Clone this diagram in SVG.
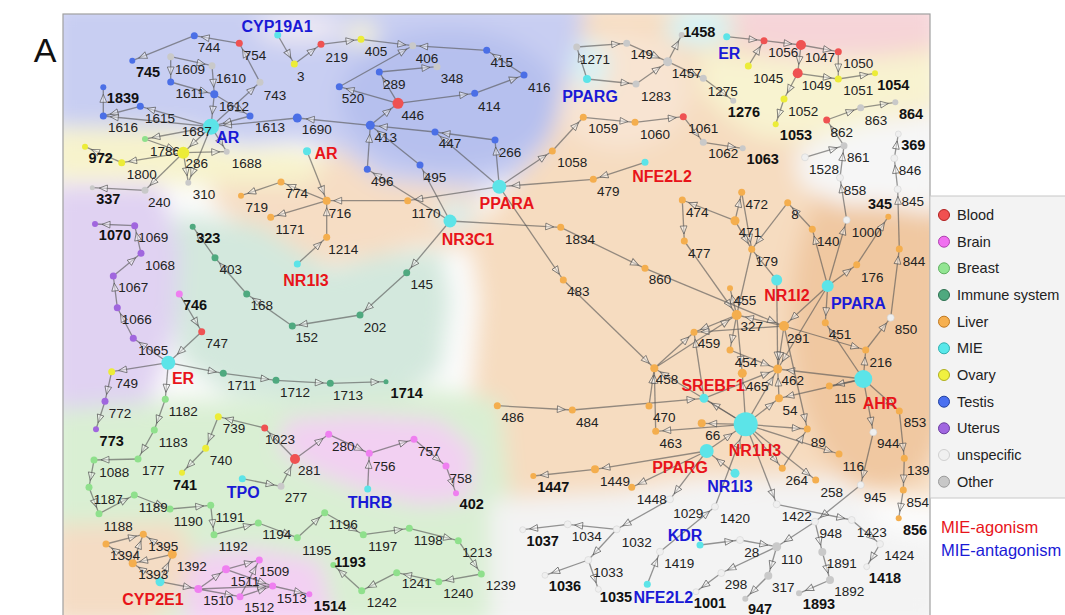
<svg xmlns="http://www.w3.org/2000/svg" width="1065" height="615" viewBox="0 0 1065 615">
<defs>
<style>
.b{fill:#4b6fe6}.r{fill:#ef5252}.g{fill:#c9c9c9}.w{fill:#efefef;stroke:#d4d4d4;stroke-width:.6}.y{fill:#ecec38}.o{fill:#f4ae4e}.c{fill:#5ce4e8}.bg{fill:#8fe08c}.im{fill:#4fa97f}.u{fill:#a066de}.p{fill:#ef7ff0}
text{font-family:"Liberation Sans",Arial,sans-serif}
.t{font-size:13.5px;fill:#222;text-anchor:middle}
.ao{font-size:14.5px;font-weight:bold;fill:#111;text-anchor:middle}
.mr{font-size:16px;font-weight:bold;fill:#e8141a;text-anchor:middle}
.mb{font-size:16px;font-weight:bold;fill:#1a1ad6;text-anchor:middle}
#edges line{stroke:#555;stroke-opacity:.62;stroke-width:1.3;fill:none}
.ea{marker-end:url(#ma)}.eb{marker-end:url(#mb)}.ec{marker-end:url(#mc)}.ed{marker-end:url(#md)}
.ah{fill:#fff;fill-opacity:.45;stroke:#555;stroke-opacity:.75;stroke-width:.9}
.lg{font-size:14.5px;fill:#222}
</style>
<marker id="ma" markerUnits="userSpaceOnUse" markerWidth="30" markerHeight="12" viewBox="-20 -6 30 12" refX="7" refY="0" orient="auto" overflow="visible"><path class="ah" d="M0,0 L-8,-3.4 L-8,3.4 Z"/></marker>
<marker id="mb" markerUnits="userSpaceOnUse" markerWidth="30" markerHeight="12" viewBox="-20 -6 30 12" refX="9" refY="0" orient="auto" overflow="visible"><path class="ah" d="M0,0 L-8,-3.4 L-8,3.4 Z"/></marker>
<marker id="mc" markerUnits="userSpaceOnUse" markerWidth="30" markerHeight="12" viewBox="-20 -6 30 12" refX="12.5" refY="0" orient="auto" overflow="visible"><path class="ah" d="M0,0 L-8,-3.4 L-8,3.4 Z"/></marker>
<marker id="md" markerUnits="userSpaceOnUse" markerWidth="30" markerHeight="12" viewBox="-20 -6 30 12" refX="16.5" refY="0" orient="auto" overflow="visible"><path class="ah" d="M0,0 L-8,-3.4 L-8,3.4 Z"/></marker>
<clipPath id="frame"><rect x="63" y="14" width="867" height="605"/></clipPath>
<filter id="blur" x="-10%" y="-10%" width="120%" height="120%"><feGaussianBlur stdDeviation="11"/></filter>
</defs>
<rect width="1065" height="615" fill="#fff"/>
<text x="45" y="62" font-size="34" fill="#111" text-anchor="middle">A</text>
<g id="background" clip-path="url(#frame)">
<rect x="63" y="14" width="867" height="605" fill="#fbfbfb"/>
<g filter="url(#blur)">
<polygon fill="#f6dcc0" points="540,5 940,5 940,500 860,490 800,478 700,478 600,495 480,500 470,420 480,300 470,240 500,200 540,150 560,100"/>
<ellipse cx="880" cy="320" rx="90" ry="170" fill="#efc399" opacity=".8"/>
<ellipse cx="620" cy="90" rx="70" ry="60" fill="#f8e4d2"/>
<polygon fill="#f6ddc4" points="205,165 300,160 340,150 420,175 480,190 480,250 420,245 380,255 330,265 290,250 250,230 215,205"/>
<polygon fill="#d3e8dd" points="175,215 260,225 330,270 380,255 440,250 450,300 440,370 390,405 300,400 230,395 180,360 175,300"/>
<polygon fill="#e0d2f2" points="50,185 160,185 180,250 175,330 150,400 120,430 50,440"/>
<polygon fill="#f7f3cc" points="50,128 170,128 230,150 300,150 330,170 300,185 200,185 120,180 50,180"/>
<polygon fill="#c8cef2" points="50,0 585,0 580,40 560,100 550,140 520,175 480,190 430,185 380,180 340,150 300,140 240,145 180,128 50,126"/>
<ellipse cx="450" cy="100" rx="110" ry="70" fill="#b6c0ee"/>
<ellipse cx="300" cy="28" rx="45" ry="16" fill="#ece8f3"/>
<ellipse cx="362" cy="34" rx="16" ry="12" fill="#f8f4d4"/>
<polygon fill="#d9efd3" points="50,410 180,400 300,400 440,390 500,400 510,500 500,625 50,625"/>
<polygon fill="#f2d0f2" points="285,420 360,415 440,420 475,450 470,500 420,505 360,490 310,470 280,450"/>
<polygon fill="#f3d0f3" points="185,555 250,548 320,560 335,625 185,625"/>
<polygon fill="#f4dcc4" points="50,525 180,522 195,560 175,600 150,625 50,625"/>
<polygon fill="#f3f3f3" points="490,500 560,495 650,490 700,482 760,478 840,478 860,495 885,535 940,540 940,625 490,625"/>
<polygon fill="#f6f6f6" points="795,150 850,125 940,110 940,215 880,205 840,205 800,185"/>
<polygon fill="#f6d4d8" points="735,0 940,0 940,45 880,55 820,60 780,55 740,45"/>
<ellipse cx="825" cy="118" rx="22" ry="12" fill="#f5d4d8"/>
<polygon fill="#f8f3d0" points="700,50 780,58 880,58 940,52 940,105 880,118 830,135 790,140 760,138 730,120 700,90"/>
<ellipse cx="700" cy="28" rx="35" ry="18" fill="#d6f3f5"/>
<ellipse cx="590" cy="66" rx="18" ry="25" fill="#d8f2f4"/>
<ellipse cx="455" cy="215" rx="20" ry="12" fill="#d6f0f2"/>
</g>
</g>
<rect x="63" y="14" width="867" height="610" fill="none" stroke="#a0a0a0" stroke-width="1.2"/>
<g id="edges">
<line class="ea" x1="260" y1="82.3" x2="239.3" y2="43.3"/>
<line class="ea" x1="239.3" y1="43.3" x2="194.3" y2="35.7"/>
<line class="ea" x1="194.3" y1="35.7" x2="132.3" y2="60.7"/>
<line class="ea" x1="211" y1="126.7" x2="260" y2="82.3"/>
<line class="ea" x1="170.7" y1="56.7" x2="170.7" y2="82"/>
<line class="ea" x1="170.7" y1="56.7" x2="212" y2="65.7"/>
<line class="ea" x1="212" y1="65.7" x2="214.3" y2="94.3"/>
<line class="ea" x1="170.7" y1="82" x2="214.3" y2="94.3"/>
<line class="ec" x1="214.3" y1="94.3" x2="211" y2="126.7"/>
<line class="ea" x1="214.3" y1="94.3" x2="250" y2="116"/>
<line class="ec" x1="250" y1="116" x2="211" y2="126.7"/>
<line class="ec" x1="297.3" y1="118" x2="211" y2="126.7"/>
<line class="eb" x1="370.3" y1="125.3" x2="297.3" y2="118"/>
<line class="ea" x1="277.7" y1="35" x2="294.3" y2="64"/>
<line class="ea" x1="294.3" y1="64" x2="321" y2="44.3"/>
<line class="ea" x1="321" y1="44.3" x2="361" y2="39.3"/>
<line class="ea" x1="211" y1="126.7" x2="140.3" y2="106.3"/>
<line class="ea" x1="140.3" y1="106.3" x2="103.3" y2="116"/>
<line class="ea" x1="211" y1="126.7" x2="103.3" y2="116"/>
<line class="ea" x1="103.3" y1="116" x2="103.3" y2="87.3"/>
<line class="ea" x1="211" y1="126.7" x2="145" y2="139"/>
<line class="eb" x1="211" y1="126.7" x2="183.3" y2="152.7"/>
<line class="ea" x1="211" y1="126.7" x2="226.7" y2="151.7"/>
<line class="ea" x1="211" y1="126.7" x2="188.3" y2="182.7"/>
<line class="eb" x1="145" y1="139" x2="183.3" y2="152.7"/>
<line class="ea" x1="183.3" y1="152.7" x2="226.7" y2="151.7"/>
<line class="ea" x1="183.3" y1="152.7" x2="188.3" y2="182.7"/>
<line class="ea" x1="183.3" y1="152.7" x2="145" y2="190.3"/>
<line class="ea" x1="183.3" y1="152.7" x2="121.7" y2="162.7"/>
<line class="ea" x1="121.7" y1="162.7" x2="85" y2="146.7"/>
<line class="ea" x1="145" y1="190.3" x2="92.3" y2="187.7"/>
<line class="ea" x1="307" y1="151.3" x2="326.7" y2="200.7"/>
<line class="ea" x1="326.7" y1="200.7" x2="281" y2="182"/>
<line class="ea" x1="281" y1="182" x2="241" y2="195.7"/>
<line class="ea" x1="326.7" y1="200.7" x2="270.7" y2="217.3"/>
<line class="ea" x1="297.3" y1="264" x2="326.7" y2="237.3"/>
<line class="ea" x1="326.7" y1="237.3" x2="326.7" y2="200.7"/>
<line class="ea" x1="407.7" y1="200.7" x2="326.7" y2="200.7"/>
<line class="ea" x1="499.3" y1="186.7" x2="407.7" y2="200.7"/>
<line class="ea" x1="361" y1="39.3" x2="412.7" y2="45.7"/>
<line class="ea" x1="486.7" y1="50.3" x2="412.7" y2="45.7"/>
<line class="ea" x1="524" y1="75" x2="486.7" y2="50.3"/>
<line class="ea" x1="474.7" y1="93.3" x2="524" y2="75"/>
<line class="ea" x1="398" y1="103.3" x2="474.7" y2="93.3"/>
<line class="ea" x1="398" y1="103.3" x2="379.3" y2="72"/>
<line class="ea" x1="379.3" y1="72" x2="437" y2="66.7"/>
<line class="ea" x1="398" y1="103.3" x2="339.3" y2="86.7"/>
<line class="ea" x1="339.3" y1="86.7" x2="412.7" y2="45.7"/>
<line class="eb" x1="370.3" y1="125.3" x2="398" y2="103.3"/>
<line class="eb" x1="435" y1="132" x2="370.3" y2="125.3"/>
<line class="ea" x1="495" y1="140" x2="435" y2="132"/>
<line class="ea" x1="499.3" y1="186.7" x2="495" y2="140"/>
<line class="ea" x1="499.3" y1="186.7" x2="435" y2="132"/>
<line class="eb" x1="367.3" y1="169.3" x2="370.3" y2="125.3"/>
<line class="eb" x1="420" y1="165" x2="370.3" y2="125.3"/>
<line class="ea" x1="450" y1="221" x2="367.3" y2="169.3"/>
<line class="ea" x1="450" y1="221" x2="420" y2="165"/>
<line class="ea" x1="499.3" y1="186.7" x2="552.3" y2="151"/>
<line class="ea" x1="552.3" y1="151" x2="583.3" y2="117.3"/>
<line class="ea" x1="583.3" y1="117.3" x2="635" y2="122.3"/>
<line class="ea" x1="635" y1="122.3" x2="683.3" y2="116.7"/>
<line class="ea" x1="683.3" y1="116.7" x2="703.3" y2="142.3"/>
<line class="ea" x1="703.3" y1="142.3" x2="742.7" y2="148.3"/>
<line class="ea" x1="645" y1="162.3" x2="593.3" y2="179.3"/>
<line class="ec" x1="593.3" y1="179.3" x2="499.3" y2="186.7"/>
<line class="ea" x1="450" y1="221" x2="560.7" y2="227.3"/>
<line class="ea" x1="560.7" y1="227.3" x2="645" y2="268.3"/>
<line class="ea" x1="499.3" y1="186.7" x2="563.3" y2="280"/>
<line class="ea" x1="563.3" y1="280" x2="654.3" y2="368.3"/>
<line class="ea" x1="450" y1="221" x2="406.7" y2="272.7"/>
<line class="ea" x1="406.7" y1="272.7" x2="360" y2="315"/>
<line class="ea" x1="360" y1="315" x2="292.3" y2="326"/>
<line class="ea" x1="292.3" y1="326" x2="246.7" y2="294"/>
<line class="ea" x1="246.7" y1="294" x2="215" y2="257.7"/>
<line class="ea" x1="215" y1="257.7" x2="192.7" y2="226.7"/>
<line class="ea" x1="330.3" y1="383.3" x2="386" y2="381.7"/>
<line class="ea" x1="587" y1="79" x2="576.7" y2="47"/>
<line class="ea" x1="576.7" y1="47" x2="626.7" y2="43.3"/>
<line class="ea" x1="587" y1="79" x2="636" y2="84"/>
<line class="eb" x1="626.7" y1="43.3" x2="667.7" y2="61.7"/>
<line class="eb" x1="636" y1="84" x2="667.7" y2="61.7"/>
<line class="ea" x1="667.7" y1="61.7" x2="681.7" y2="35"/>
<line class="ea" x1="667.7" y1="61.7" x2="703.3" y2="78.3"/>
<line class="ea" x1="703.3" y1="78.3" x2="733.3" y2="100.7"/>
<line class="ea" x1="726.7" y1="36.7" x2="764" y2="40.7"/>
<line class="ea" x1="748.3" y1="66" x2="764" y2="40.7"/>
<line class="eb" x1="764" y1="40.7" x2="801" y2="45"/>
<line class="ea" x1="801" y1="45" x2="838.3" y2="51.7"/>
<line class="eb" x1="801" y1="45" x2="797.7" y2="73.3"/>
<line class="ea" x1="838.3" y1="51.7" x2="838.3" y2="79"/>
<line class="ea" x1="797.7" y1="73.3" x2="838.3" y2="79"/>
<line class="ea" x1="838.3" y1="79" x2="875" y2="73.3"/>
<line class="ea" x1="797.7" y1="73.3" x2="784" y2="99"/>
<line class="ea" x1="784" y1="99" x2="775.7" y2="124.3"/>
<line class="ea" x1="826.7" y1="120" x2="860.7" y2="107.7"/>
<line class="ea" x1="860.7" y1="107.7" x2="895.3" y2="102.3"/>
<line class="ea" x1="844" y1="145.7" x2="826.7" y2="120"/>
<line class="ea" x1="805" y1="157.3" x2="844" y2="145.7"/>
<line class="ea" x1="840" y1="177.7" x2="844" y2="145.7"/>
<line class="ea" x1="846.7" y1="220" x2="840" y2="177.7"/>
<line class="ea" x1="894.3" y1="158.3" x2="898.3" y2="134"/>
<line class="ea" x1="897.7" y1="189.3" x2="894.3" y2="158.3"/>
<line class="ea" x1="899.3" y1="249" x2="897.7" y2="189.3"/>
<line class="ea" x1="890.7" y1="317.7" x2="899.3" y2="249"/>
<line class="ea" x1="865.7" y1="350" x2="890.7" y2="317.7"/>
<line class="ea" x1="863.3" y1="379" x2="865.7" y2="350"/>
<line class="ea" x1="827.7" y1="286" x2="856.7" y2="264.7"/>
<line class="ea" x1="856.7" y1="264.7" x2="888.3" y2="216.7"/>
<line class="ea" x1="827.7" y1="286" x2="846.7" y2="220"/>
<line class="ea" x1="827.7" y1="286" x2="812.3" y2="229.3"/>
<line class="ea" x1="812.3" y1="229.3" x2="787.7" y2="202.7"/>
<line class="ea" x1="787.7" y1="202.7" x2="751.7" y2="249.3"/>
<line class="ea" x1="735" y1="220.7" x2="751.7" y2="249.3"/>
<line class="ea" x1="741.7" y1="192.3" x2="751.7" y2="249.3"/>
<line class="ea" x1="735" y1="220.7" x2="741.7" y2="192.3"/>
<line class="ea" x1="735" y1="220.7" x2="682.3" y2="200"/>
<line class="ea" x1="682.3" y1="200" x2="684.3" y2="241"/>
<line class="ea" x1="776.7" y1="280" x2="751.7" y2="249.3"/>
<line class="eb" x1="751.7" y1="249.3" x2="736.7" y2="315"/>
<line class="eb" x1="684.3" y1="241" x2="736.7" y2="315"/>
<line class="eb" x1="645" y1="268.3" x2="784" y2="326"/>
<line class="eb" x1="776.7" y1="280" x2="777.7" y2="369"/>
<line class="ea" x1="827.7" y1="286" x2="825.3" y2="322.7"/>
<line class="eb" x1="827.7" y1="286" x2="784" y2="326"/>
<line class="eb" x1="827.7" y1="286" x2="777.7" y2="369"/>
<line class="ea" x1="736.7" y1="315" x2="730" y2="288.3"/>
<line class="ea" x1="736.7" y1="315" x2="694" y2="332.3"/>
<line class="ea" x1="736.7" y1="315" x2="730" y2="350"/>
<line class="eb" x1="736.7" y1="315" x2="742.3" y2="373.3"/>
<line class="eb" x1="784" y1="326" x2="736.7" y2="315"/>
<line class="ea" x1="784" y1="326" x2="694" y2="332.3"/>
<line class="eb" x1="784" y1="326" x2="777.7" y2="369"/>
<line class="ea" x1="784" y1="326" x2="865.7" y2="350"/>
<line class="ea" x1="654.3" y1="368.3" x2="694" y2="332.3"/>
<line class="eb" x1="654.3" y1="368.3" x2="736.7" y2="315"/>
<line class="ea" x1="649" y1="406" x2="654.3" y2="368.3"/>
<line class="ea" x1="655.7" y1="431.3" x2="654.3" y2="368.3"/>
<line class="eb" x1="730" y1="350" x2="777.7" y2="369"/>
<line class="eb" x1="704" y1="398.3" x2="777.7" y2="369"/>
<line class="ea" x1="704" y1="398.3" x2="694" y2="332.3"/>
<line class="eb" x1="572.3" y1="410" x2="704" y2="398.3"/>
<line class="ea" x1="497.3" y1="405.7" x2="572.3" y2="410"/>
<line class="ea" x1="745.7" y1="424.3" x2="701.7" y2="423.3"/>
<line class="ea" x1="745.7" y1="424.3" x2="655.7" y2="431.3"/>
<line class="eb" x1="745.7" y1="424.3" x2="704" y2="398.3"/>
<line class="ea" x1="745.7" y1="424.3" x2="779" y2="398.3"/>
<line class="eb" x1="745.7" y1="424.3" x2="777.7" y2="369"/>
<line class="ea" x1="745.7" y1="424.3" x2="807.3" y2="429"/>
<line class="ea" x1="745.7" y1="424.3" x2="839" y2="454"/>
<line class="ea" x1="745.7" y1="424.3" x2="782.3" y2="468.3"/>
<line class="ea" x1="745.7" y1="424.3" x2="815.7" y2="480"/>
<line class="ea" x1="745.7" y1="424.3" x2="776.7" y2="504.3"/>
<line class="ea" x1="745.7" y1="424.3" x2="654.3" y2="368.3"/>
<line class="eb" x1="745.7" y1="424.3" x2="742.3" y2="373.3"/>
<line class="ea" x1="863.3" y1="379" x2="829.3" y2="386"/>
<line class="ea" x1="863.3" y1="379" x2="779" y2="398.3"/>
<line class="eb" x1="863.3" y1="379" x2="777.7" y2="369"/>
<line class="ea" x1="863.3" y1="379" x2="825.3" y2="322.7"/>
<line class="ea" x1="863.3" y1="379" x2="873.3" y2="432.3"/>
<line class="ea" x1="863.3" y1="379" x2="899.3" y2="411"/>
<line class="ea" x1="899.3" y1="411" x2="904.3" y2="458.3"/>
<line class="ea" x1="904.3" y1="458.3" x2="903.3" y2="490"/>
<line class="ea" x1="903.3" y1="490" x2="898.7" y2="518.3"/>
<line class="eb" x1="779" y1="398.3" x2="777.7" y2="369"/>
<line class="ea" x1="784" y1="326" x2="807.3" y2="429"/>
<line class="ea" x1="782.3" y1="468.3" x2="807.3" y2="429"/>
<line class="ec" x1="735" y1="473.3" x2="706.7" y2="451"/>
<line class="ed" x1="706.7" y1="451" x2="745.7" y2="424.3"/>
<line class="ea" x1="706.7" y1="451" x2="631.7" y2="487.3"/>
<line class="ea" x1="706.7" y1="451" x2="595" y2="469.3"/>
<line class="ea" x1="595" y1="469.3" x2="533.3" y2="476"/>
<line class="ea" x1="706.7" y1="451" x2="670" y2="499.3"/>
<line class="ea" x1="670" y1="499.3" x2="616.7" y2="529.3"/>
<line class="ea" x1="616.7" y1="529.3" x2="567.7" y2="524.3"/>
<line class="ea" x1="567.7" y1="524.3" x2="522.7" y2="529.7"/>
<line class="ea" x1="616.7" y1="529.3" x2="588.3" y2="560"/>
<line class="ea" x1="588.3" y1="560" x2="545" y2="575.3"/>
<line class="ea" x1="588.3" y1="560" x2="598.3" y2="589.3"/>
<line class="ea" x1="647.3" y1="584.3" x2="660" y2="551.7"/>
<line class="ea" x1="660" y1="551.7" x2="715" y2="506.7"/>
<line class="ed" x1="715" y1="506.7" x2="745.7" y2="424.3"/>
<line class="ea" x1="700" y1="545" x2="740" y2="540"/>
<line class="eb" x1="740" y1="540" x2="776.7" y2="546.7"/>
<line class="ea" x1="873.3" y1="432.3" x2="860.7" y2="485"/>
<line class="ea" x1="860.7" y1="485" x2="815" y2="521.7"/>
<line class="eb" x1="815" y1="521.7" x2="776.7" y2="546.7"/>
<line class="ea" x1="815" y1="521.7" x2="822.3" y2="552"/>
<line class="ea" x1="822.3" y1="552" x2="830" y2="580"/>
<line class="ea" x1="830" y1="580" x2="799" y2="593.3"/>
<line class="ea" x1="776.7" y1="546.7" x2="768.3" y2="575.7"/>
<line class="ea" x1="768.3" y1="575.7" x2="745.3" y2="598.7"/>
<line class="ea" x1="776.7" y1="546.7" x2="721.3" y2="573"/>
<line class="ea" x1="721.3" y1="573" x2="696" y2="591.7"/>
<line class="ea" x1="776.7" y1="504.3" x2="851.7" y2="520"/>
<line class="ea" x1="851.7" y1="520" x2="880" y2="544"/>
<line class="ea" x1="880" y1="544" x2="866.7" y2="566.7"/>
<line class="ea" x1="134.7" y1="225.7" x2="95" y2="224"/>
<line class="ea" x1="141" y1="253.3" x2="134.7" y2="225.7"/>
<line class="ea" x1="113.3" y1="276" x2="141" y2="253.3"/>
<line class="ea" x1="117.3" y1="307.7" x2="113.3" y2="276"/>
<line class="ea" x1="133.3" y1="338.3" x2="117.3" y2="307.7"/>
<line class="ea" x1="168.3" y1="362.7" x2="133.3" y2="338.3"/>
<line class="ea" x1="179.3" y1="294" x2="201.7" y2="331.7"/>
<line class="ec" x1="201.7" y1="331.7" x2="168.3" y2="362.7"/>
<line class="ea" x1="168.3" y1="362.7" x2="111.7" y2="371.7"/>
<line class="ea" x1="111.7" y1="371.7" x2="105" y2="401.3"/>
<line class="ea" x1="105" y1="401.3" x2="96" y2="429.3"/>
<line class="ea" x1="168.3" y1="362.7" x2="223.3" y2="373.3"/>
<line class="ea" x1="223.3" y1="373.3" x2="276" y2="380.3"/>
<line class="ea" x1="276" y1="380.3" x2="330.3" y2="383.3"/>
<line class="ea" x1="168.3" y1="362.7" x2="165.3" y2="399.3"/>
<line class="ea" x1="165.3" y1="399.3" x2="154.3" y2="430"/>
<line class="ea" x1="154.3" y1="430" x2="138" y2="459"/>
<line class="ea" x1="138" y1="459" x2="94" y2="460"/>
<line class="ea" x1="94" y1="460" x2="89" y2="487.3"/>
<line class="ea" x1="89" y1="487.3" x2="99" y2="513.7"/>
<line class="ea" x1="99" y1="513.7" x2="134.3" y2="495"/>
<line class="ea" x1="134.3" y1="495" x2="170" y2="509"/>
<line class="ea" x1="170" y1="509" x2="210.7" y2="505.3"/>
<line class="ea" x1="210.7" y1="505.3" x2="214" y2="534.7"/>
<line class="ea" x1="214" y1="534.7" x2="258.3" y2="523"/>
<line class="ea" x1="258.3" y1="523" x2="297.3" y2="537.7"/>
<line class="ea" x1="297.3" y1="537.7" x2="324.7" y2="512.7"/>
<line class="ea" x1="324.7" y1="512.7" x2="363.3" y2="534.7"/>
<line class="ea" x1="363.3" y1="534.7" x2="409.3" y2="528.3"/>
<line class="ea" x1="409.3" y1="528.3" x2="458.3" y2="540.7"/>
<line class="ea" x1="458.3" y1="540.7" x2="481.3" y2="574"/>
<line class="ea" x1="481.3" y1="574" x2="438.7" y2="581.7"/>
<line class="ea" x1="438.7" y1="581.7" x2="396.7" y2="572.7"/>
<line class="ea" x1="396.7" y1="572.7" x2="361.7" y2="590.7"/>
<line class="ea" x1="361.7" y1="590.7" x2="333.3" y2="565"/>
<line class="ea" x1="242.3" y1="478.7" x2="281" y2="486.3"/>
<line class="eb" x1="281" y1="486.3" x2="295" y2="459"/>
<line class="ea" x1="295" y1="459" x2="264.7" y2="428"/>
<line class="ea" x1="264.7" y1="428" x2="218.3" y2="416.7"/>
<line class="ea" x1="218.3" y1="416.7" x2="205.7" y2="448.3"/>
<line class="ea" x1="205.7" y1="448.3" x2="182" y2="472.7"/>
<line class="ea" x1="295" y1="459" x2="328.7" y2="434.3"/>
<line class="ea" x1="328.7" y1="434.3" x2="369.3" y2="453.3"/>
<line class="ea" x1="367.7" y1="489" x2="369.3" y2="453.3"/>
<line class="ea" x1="369.3" y1="453.3" x2="414" y2="439.3"/>
<line class="ea" x1="414" y1="439.3" x2="446" y2="466"/>
<line class="ea" x1="446" y1="466" x2="456" y2="493.3"/>
<line class="ea" x1="160" y1="581.7" x2="132.7" y2="563.3"/>
<line class="eb" x1="160" y1="581.7" x2="172.3" y2="554.3"/>
<line class="ea" x1="172.3" y1="554.3" x2="132.7" y2="563.3"/>
<line class="ea" x1="132.7" y1="563.3" x2="143.3" y2="534.3"/>
<line class="ea" x1="172.3" y1="554.3" x2="143.3" y2="534.3"/>
<line class="ea" x1="106" y1="544" x2="143.3" y2="534.3"/>
<line class="ea" x1="132.7" y1="563.3" x2="106" y2="544"/>
<line class="ea" x1="160" y1="581.7" x2="198.3" y2="589"/>
<line class="ea" x1="198.3" y1="589" x2="226" y2="569.3"/>
<line class="ea" x1="226" y1="569.3" x2="259.3" y2="560"/>
<line class="ea" x1="226" y1="569.3" x2="272.7" y2="586"/>
<line class="ea" x1="240" y1="596.7" x2="259.3" y2="560"/>
<line class="ea" x1="198.3" y1="589" x2="240" y2="596.7"/>
<line class="ea" x1="240" y1="596.7" x2="272.7" y2="586"/>
<line class="ea" x1="198.3" y1="589" x2="272.7" y2="586"/>
<line class="ea" x1="272.7" y1="586" x2="309.3" y2="594.3"/>
</g>
<g id="nodes">
<g id="n744"><circle class="b" cx="194.3" cy="35.7" r="3.5"/><text class="t" x="209" y="52">744</text></g>
<g id="n754"><circle class="r" cx="239.3" cy="43.3" r="3.5"/><text class="t" x="255" y="60">754</text></g>
<g id="n745"><circle class="b" cx="132.3" cy="60.7" r="3"/><text class="ao" x="148" y="77">745</text></g>
<g id="n1609"><circle class="g" cx="170.7" cy="56.7" r="3.5"/><text class="t" x="190" y="74">1609</text></g>
<g id="n1610"><circle class="g" cx="212" cy="65.7" r="3.5"/><text class="t" x="231" y="83">1610</text></g>
<g id="n1611"><circle class="b" cx="170.7" cy="82" r="3.5"/><text class="t" x="190" y="98">1611</text></g>
<g id="n1612"><circle class="b" cx="214.3" cy="94.3" r="4"/><text class="t" x="234" y="111">1612</text></g>
<g id="n743"><circle class="g" cx="260" cy="82.3" r="3.5"/><text class="t" x="275" y="100">743</text></g>
<g id="nCYP19A1"><circle class="c" cx="277.7" cy="35" r="3.5"/><text class="mb" x="277" y="32">CYP19A1</text></g>
<g id="n3"><circle class="y" cx="294.3" cy="64" r="3.5"/><text class="t" x="300.7" y="81">3</text></g>
<g id="n219"><circle class="r" cx="321" cy="44.3" r="3.5"/><text class="t" x="336.7" y="62">219</text></g>
<g id="n1839"><circle class="b" cx="103.3" cy="87.3" r="3"/><text class="ao" x="123" y="103">1839</text></g>
<g id="n1616"><circle class="b" cx="103.3" cy="116" r="3.5"/><text class="t" x="123" y="132">1616</text></g>
<g id="n1615"><circle class="b" cx="140.3" cy="106.3" r="3.5"/><text class="t" x="160" y="123">1615</text></g>
<g id="n1613"><circle class="b" cx="250" cy="116" r="3.5"/><text class="t" x="270" y="132">1613</text></g>
<g id="n1690"><circle class="b" cx="297.3" cy="118" r="4.5"/><text class="t" x="316.7" y="134">1690</text></g>
<g id="nAR1"><circle class="c" cx="211" cy="126.7" r="8"/><text class="t" x="196.7" y="136">1687</text><text class="mb" x="227.7" y="143">AR</text></g>
<g id="n1786"><circle class="bg" cx="145" cy="139" r="3"/><text class="t" x="165" y="156">1786</text></g>
<g id="n286"><circle class="y" cx="183.3" cy="152.7" r="6"/><text class="t" x="196.7" y="168">286</text></g>
<g id="n1688"><circle class="g" cx="226.7" cy="151.7" r="3"/><text class="t" x="246.7" y="168">1688</text></g>
<g id="n972"><circle class="y" cx="85" cy="146.7" r="3"/><text class="ao" x="100.7" y="163">972</text></g>
<g id="n1800"><circle class="y" cx="121.7" cy="162.7" r="3.5"/><text class="t" x="141.7" y="179">1800</text></g>
<g id="n310"><circle class="g" cx="188.3" cy="182.7" r="3"/><text class="t" x="204" y="199">310</text></g>
<g id="n240"><circle class="g" cx="145" cy="190.3" r="3.5"/><text class="t" x="159.3" y="207">240</text></g>
<g id="n337"><circle class="g" cx="92.3" cy="187.7" r="2.5"/><text class="ao" x="108.3" y="204">337</text></g>
<g id="nAR2"><circle class="c" cx="307" cy="151.3" r="4"/><text class="mr" x="326" y="159">AR</text></g>
<g id="n774"><circle class="o" cx="281" cy="182" r="3.5"/><text class="t" x="296.7" y="198">774</text></g>
<g id="n716"><circle class="o" cx="326.7" cy="200.7" r="4"/><text class="t" x="340" y="218">716</text></g>
<g id="n719"><circle class="o" cx="241" cy="195.7" r="3"/><text class="t" x="256.7" y="212">719</text></g>
<g id="n1171"><circle class="o" cx="270.7" cy="217.3" r="3.5"/><text class="t" x="290" y="234">1171</text></g>
<g id="n1214"><circle class="o" cx="326.7" cy="237.3" r="3.5"/><text class="t" x="343.3" y="254">1214</text></g>
<g id="nNR1I3a"><circle class="c" cx="297.3" cy="264" r="3.5"/><text class="mr" x="306" y="286">NR1I3</text></g>
<g id="n405"><circle class="y" cx="361" cy="39.3" r="3.5"/><text class="t" x="376" y="56">405</text></g>
<g id="n406"><circle class="g" cx="412.7" cy="45.7" r="3.5"/><text class="t" x="427" y="63">406</text></g>
<g id="n415"><circle class="b" cx="486.7" cy="50.3" r="3.5"/><text class="t" x="501.7" y="67">415</text></g>
<g id="n416"><circle class="b" cx="524" cy="75" r="3.5"/><text class="t" x="539.3" y="92">416</text></g>
<g id="n414"><circle class="b" cx="474.7" cy="93.3" r="3.5"/><text class="t" x="489.3" y="111">414</text></g>
<g id="n446"><circle class="r" cx="398" cy="103.3" r="5.5"/><text class="t" x="412.7" y="120">446</text></g>
<g id="n289"><circle class="b" cx="379.3" cy="72" r="3.5"/><text class="t" x="394.3" y="89">289</text></g>
<g id="n348"><circle class="g" cx="437" cy="66.7" r="3.5"/><text class="t" x="452" y="83">348</text></g>
<g id="n520"><circle class="b" cx="339.3" cy="86.7" r="3.5"/><text class="t" x="353" y="103">520</text></g>
<g id="n413"><circle class="b" cx="370.3" cy="125.3" r="4.5"/><text class="t" x="385.7" y="142">413</text></g>
<g id="n447"><circle class="b" cx="435" cy="132" r="3.5"/><text class="t" x="450" y="148">447</text></g>
<g id="n266"><circle class="b" cx="495" cy="140" r="3.5"/><text class="t" x="510" y="157">266</text></g>
<g id="n496"><circle class="b" cx="367.3" cy="169.3" r="3.5"/><text class="t" x="382.3" y="186">496</text></g>
<g id="n495"><circle class="b" cx="420" cy="165" r="3.5"/><text class="t" x="435" y="182">495</text></g>
<g id="nPPARA1"><circle class="c" cx="499.3" cy="186.7" r="7"/><text class="mr" x="507" y="209">PPARA</text></g>
<g id="n1058"><circle class="o" cx="552.3" cy="151" r="3.5"/><text class="t" x="572.3" y="167">1058</text></g>
<g id="n1059"><circle class="o" cx="583.3" cy="117.3" r="3.5"/><text class="t" x="603.3" y="133">1059</text></g>
<g id="n1060"><circle class="o" cx="635" cy="122.3" r="3.5"/><text class="t" x="655" y="139">1060</text></g>
<g id="n479"><circle class="o" cx="593.3" cy="179.3" r="3.5"/><text class="t" x="608.3" y="196">479</text></g>
<g id="n1170"><circle class="o" cx="407.7" cy="200.7" r="3.5"/><text class="t" x="426" y="218">1170</text></g>
<g id="nNR3C1"><circle class="c" cx="450" cy="221" r="6.5"/><text class="mr" x="468" y="245">NR3C1</text></g>
<g id="n1834"><circle class="o" cx="560.7" cy="227.3" r="3.5"/><text class="t" x="580" y="244">1834</text></g>
<g id="n483"><circle class="o" cx="563.3" cy="280" r="3.5"/><text class="t" x="578.3" y="296">483</text></g>
<g id="n145"><circle class="im" cx="406.7" cy="272.7" r="3.5"/><text class="t" x="421.7" y="289">145</text></g>
<g id="n202"><circle class="im" cx="360" cy="315" r="3.5"/><text class="t" x="375" y="332">202</text></g>
<g id="n152"><circle class="im" cx="292.3" cy="326" r="3.5"/><text class="t" x="306.7" y="342">152</text></g>
<g id="n168"><circle class="im" cx="246.7" cy="294" r="3.5"/><text class="t" x="261.7" y="310">168</text></g>
<g id="n403"><circle class="im" cx="215" cy="257.7" r="3.5"/><text class="t" x="230.7" y="274">403</text></g>
<g id="n323"><circle class="im" cx="192.7" cy="226.7" r="3"/><text class="ao" x="208.3" y="243">323</text></g>
<g id="n1714"><circle class="im" cx="386" cy="381.7" r="2.5"/><text class="ao" x="406.7" y="398">1714</text></g>
<g id="n1271"><circle class="g" cx="576.7" cy="47" r="3.5"/><text class="t" x="595" y="64">1271</text></g>
<g id="nPPARG1"><circle class="c" cx="587" cy="79" r="4"/><text class="mb" x="590" y="102">PPARG</text></g>
<g id="n149"><circle class="g" cx="626.7" cy="43.3" r="3.5"/><text class="t" x="641.7" y="59">149</text></g>
<g id="n1283"><circle class="g" cx="636" cy="84" r="3.5"/><text class="t" x="656" y="101">1283</text></g>
<g id="n1457"><circle class="g" cx="667.7" cy="61.7" r="4.5"/><text class="t" x="686.7" y="78">1457</text></g>
<g id="n1458"><circle class="g" cx="681.7" cy="35" r="3"/><text class="ao" x="699.3" y="37">1458</text></g>
<g id="n1275"><circle class="g" cx="703.3" cy="78.3" r="3.5"/><text class="t" x="722.7" y="96">1275</text></g>
<g id="n1276"><circle class="g" cx="733.3" cy="100.7" r="3"/><text class="ao" x="744" y="117">1276</text></g>
<g id="nER2"><circle class="c" cx="726.7" cy="36.7" r="3.5"/><text class="mb" x="729.3" y="59">ER</text></g>
<g id="n1045"><circle class="y" cx="748.3" cy="66" r="3.5"/><text class="t" x="768.3" y="83">1045</text></g>
<g id="n1056"><circle class="r" cx="764" cy="40.7" r="3.5"/><text class="t" x="783.3" y="57">1056</text></g>
<g id="n1047"><circle class="r" cx="801" cy="45" r="5"/><text class="t" x="820" y="62">1047</text></g>
<g id="n1050"><circle class="r" cx="838.3" cy="51.7" r="3.5"/><text class="t" x="858.3" y="68">1050</text></g>
<g id="n1049"><circle class="r" cx="797.7" cy="73.3" r="5"/><text class="t" x="816.7" y="90">1049</text></g>
<g id="n1051"><circle class="y" cx="838.3" cy="79" r="3.5"/><text class="t" x="858.3" y="95">1051</text></g>
<g id="n1054"><circle class="y" cx="875" cy="73.3" r="3"/><text class="ao" x="893.3" y="90">1054</text></g>
<g id="n1052"><circle class="y" cx="784" cy="99" r="3.5"/><text class="t" x="803.3" y="116">1052</text></g>
<g id="n1053"><circle class="y" cx="775.7" cy="124.3" r="3"/><text class="ao" x="796" y="140">1053</text></g>
<g id="n1061"><circle class="r" cx="683.3" cy="116.7" r="3.5"/><text class="t" x="703.3" y="133">1061</text></g>
<g id="n1062"><circle class="g" cx="703.3" cy="142.3" r="3.5"/><text class="t" x="723.3" y="158">1062</text></g>
<g id="n1063"><circle class="g" cx="742.7" cy="148.3" r="3"/><text class="ao" x="762.7" y="164">1063</text></g>
<g id="nNFE2L2a"><circle class="c" cx="645" cy="162.3" r="3.5"/><text class="mr" x="662" y="182">NFE2L2</text></g>
<g id="n862"><circle class="r" cx="826.7" cy="120" r="3.5"/><text class="t" x="841.7" y="137">862</text></g>
<g id="n863"><circle class="g" cx="860.7" cy="107.7" r="3.5"/><text class="t" x="876" y="125">863</text></g>
<g id="n864"><circle class="g" cx="895.3" cy="102.3" r="3"/><text class="ao" x="911" y="119">864</text></g>
<g id="n861"><circle class="g" cx="844" cy="145.7" r="3.5"/><text class="t" x="858.3" y="162">861</text></g>
<g id="n1528"><circle class="w" cx="805" cy="157.3" r="3.5"/><text class="t" x="824" y="174">1528</text></g>
<g id="n858"><circle class="w" cx="840" cy="177.7" r="3.5"/><text class="t" x="855" y="195">858</text></g>
<g id="n846"><circle class="w" cx="894.3" cy="158.3" r="3.5"/><text class="t" x="910" y="175">846</text></g>
<g id="n369"><circle class="w" cx="898.3" cy="134" r="3"/><text class="ao" x="913.3" y="150">369</text></g>
<g id="n845"><circle class="w" cx="897.7" cy="189.3" r="3.5"/><text class="t" x="912.7" y="206">845</text></g>
<g id="n345"><circle class="o" cx="888.3" cy="216.7" r="3"/><text class="ao" x="880" y="209">345</text></g>
<g id="n1000"><circle class="w" cx="846.7" cy="220" r="3.5"/><text class="t" x="866.7" y="237">1000</text></g>
<g id="nPPARA2"><circle class="c" cx="827.7" cy="286" r="6"/><text class="mb" x="858.3" y="309">PPARA</text></g>
<g id="n176"><circle class="o" cx="856.7" cy="264.7" r="3.5"/><text class="t" x="872.3" y="282">176</text></g>
<g id="n140"><circle class="o" cx="812.3" cy="229.3" r="3.5"/><text class="t" x="828.3" y="246">140</text></g>
<g id="n8"><circle class="o" cx="787.7" cy="202.7" r="3.5"/><text class="t" x="795" y="219">8</text></g>
<g id="n179"><circle class="o" cx="751.7" cy="249.3" r="3.5"/><text class="t" x="766.7" y="266">179</text></g>
<g id="nNR1I2"><circle class="c" cx="776.7" cy="280" r="5.5"/><text class="mr" x="787" y="301">NR1I2</text></g>
<g id="n471"><circle class="o" cx="735" cy="220.7" r="4.5"/><text class="t" x="750" y="237">471</text></g>
<g id="n472"><circle class="o" cx="741.7" cy="192.3" r="3.5"/><text class="t" x="756.7" y="209">472</text></g>
<g id="n474"><circle class="o" cx="682.3" cy="200" r="3.5"/><text class="t" x="697.3" y="217">474</text></g>
<g id="n477"><circle class="o" cx="684.3" cy="241" r="3.5"/><text class="t" x="699.3" y="258">477</text></g>
<g id="n860"><circle class="o" cx="645" cy="268.3" r="3.5"/><text class="t" x="660" y="284">860</text></g>
<g id="n844"><circle class="o" cx="899.3" cy="249" r="3.5"/><text class="t" x="914" y="266">844</text></g>
<g id="n850"><circle class="w" cx="890.7" cy="317.7" r="3.5"/><text class="t" x="906" y="334">850</text></g>
<g id="n455"><circle class="o" cx="730" cy="288.3" r="3"/><text class="t" x="745" y="305">455</text></g>
<g id="n327"><circle class="o" cx="736.7" cy="315" r="5"/><text class="t" x="751.7" y="331">327</text></g>
<g id="n291"><circle class="o" cx="784" cy="326" r="5"/><text class="t" x="798.3" y="343">291</text></g>
<g id="n451"><circle class="o" cx="825.3" cy="322.7" r="3.5"/><text class="t" x="840" y="339">451</text></g>
<g id="n459"><circle class="o" cx="694" cy="332.3" r="3.5"/><text class="t" x="709" y="348">459</text></g>
<g id="n454"><circle class="o" cx="730" cy="350" r="3.5"/><text class="t" x="746" y="367">454</text></g>
<g id="n465"><circle class="o" cx="742.3" cy="373.3" r="4.5"/><text class="t" x="757.3" y="391">465</text></g>
<g id="n462"><circle class="o" cx="777.7" cy="369" r="4.5"/><text class="t" x="792.7" y="385">462</text></g>
<g id="n54"><circle class="o" cx="779" cy="398.3" r="4"/><text class="t" x="790" y="415">54</text></g>
<g id="n458"><circle class="o" cx="654.3" cy="368.3" r="4"/><text class="t" x="667" y="384">458</text></g>
<g id="nSREBF1"><circle class="c" cx="704" cy="398.3" r="4.5"/><text class="mr" x="713" y="391">SREBF1</text></g>
<g id="n470"><circle class="o" cx="649" cy="406" r="3.5"/><text class="t" x="664.3" y="422">470</text></g>
<g id="n463"><circle class="o" cx="655.7" cy="431.3" r="3.5"/><text class="t" x="670.7" y="448">463</text></g>
<g id="n66"><circle class="o" cx="701.7" cy="423.3" r="4"/><text class="t" x="712.7" y="440">66</text></g>
<g id="nNR1H3"><circle class="c" cx="745.7" cy="424.3" r="12"/><text class="mr" x="755" y="456">NR1H3</text></g>
<g id="nPPARG2"><circle class="c" cx="706.7" cy="451" r="7"/><text class="mr" x="680" y="473">PPARG</text></g>
<g id="nNR1I3b"><circle class="c" cx="735" cy="473.3" r="4.5"/><text class="mb" x="730" y="492">NR1I3</text></g>
<g id="n89"><circle class="o" cx="807.3" cy="429" r="3.5"/><text class="t" x="818.3" y="447">89</text></g>
<g id="n115"><circle class="o" cx="829.3" cy="386" r="3.5"/><text class="t" x="845" y="403">115</text></g>
<g id="nAHR"><circle class="c" cx="863.3" cy="379" r="9"/><text class="mr" x="880" y="409">AHR</text></g>
<g id="n216"><circle class="o" cx="865.7" cy="350" r="3.5"/><text class="t" x="880.7" y="367">216</text></g>
<g id="n264"><circle class="o" cx="782.3" cy="468.3" r="3.5"/><text class="t" x="796.7" y="485">264</text></g>
<g id="n258"><circle class="o" cx="815.7" cy="480" r="3.5"/><text class="t" x="831.7" y="497">258</text></g>
<g id="n116"><circle class="o" cx="839" cy="454" r="3.5"/><text class="t" x="853.3" y="471">116</text></g>
<g id="n853"><circle class="o" cx="899.3" cy="411" r="3.5"/><text class="t" x="915" y="427">853</text></g>
<g id="n139"><circle class="o" cx="904.3" cy="458.3" r="3.5"/><text class="t" x="918.3" y="475">139</text></g>
<g id="n854"><circle class="o" cx="903.3" cy="490" r="3.5"/><text class="t" x="917.7" y="507">854</text></g>
<g id="n856"><circle class="o" cx="898.7" cy="518.3" r="3"/><text class="ao" x="915" y="535">856</text></g>
<g id="n944"><circle class="w" cx="873.3" cy="432.3" r="3.5"/><text class="t" x="888.3" y="448">944</text></g>
<g id="n945"><circle class="w" cx="860.7" cy="485" r="3.5"/><text class="t" x="875" y="502">945</text></g>
<g id="n948"><circle class="w" cx="815" cy="521.7" r="3.5"/><text class="t" x="830.7" y="538">948</text></g>
<g id="n1422"><circle class="w" cx="776.7" cy="504.3" r="3.5"/><text class="t" x="796.7" y="521">1422</text></g>
<g id="n1423"><circle class="w" cx="851.7" cy="520" r="3.5"/><text class="t" x="871.7" y="537">1423</text></g>
<g id="n1424"><circle class="w" cx="880" cy="544" r="3.5"/><text class="t" x="899.3" y="560">1424</text></g>
<g id="n1418"><circle class="w" cx="866.7" cy="566.7" r="3"/><text class="ao" x="885" y="583">1418</text></g>
<g id="n110"><circle class="g" cx="776.7" cy="546.7" r="4.5"/><text class="t" x="791.7" y="564">110</text></g>
<g id="n1891"><circle class="g" cx="822.3" cy="552" r="4"/><text class="t" x="841.7" y="568">1891</text></g>
<g id="n1892"><circle class="g" cx="830" cy="580" r="4"/><text class="t" x="849.3" y="596">1892</text></g>
<g id="n1893"><circle class="g" cx="799" cy="593.3" r="3"/><text class="ao" x="819" y="609">1893</text></g>
<g id="n317"><circle class="g" cx="768.3" cy="575.7" r="4"/><text class="t" x="783.3" y="592">317</text></g>
<g id="n947"><circle class="g" cx="745.3" cy="598.7" r="3"/><text class="ao" x="760" y="614">947</text></g>
<g id="n298"><circle class="w" cx="721.3" cy="573" r="3.5"/><text class="t" x="736" y="589">298</text></g>
<g id="n1001"><circle class="w" cx="696" cy="591.7" r="3"/><text class="ao" x="710" y="608">1001</text></g>
<g id="n28"><circle class="w" cx="740" cy="540" r="3.5"/><text class="t" x="751.7" y="557">28</text></g>
<g id="nKDR"><circle class="c" cx="700" cy="545" r="3.5"/><text class="mb" x="685" y="541">KDR</text></g>
<g id="nNFE2L2b"><circle class="c" cx="647.3" cy="584.3" r="3.5"/><text class="mb" x="663.3" y="603">NFE2L2</text></g>
<g id="n1419"><circle class="w" cx="660" cy="551.7" r="3.5"/><text class="t" x="679.3" y="568">1419</text></g>
<g id="n1420"><circle class="w" cx="715" cy="506.7" r="3.5"/><text class="t" x="735" y="523">1420</text></g>
<g id="n1029"><circle class="w" cx="670" cy="499.3" r="3.5"/><text class="t" x="688.3" y="518">1029</text></g>
<g id="n1448"><circle class="o" cx="631.7" cy="487.3" r="3.5"/><text class="t" x="651.7" y="504">1448</text></g>
<g id="n1449"><circle class="o" cx="595" cy="469.3" r="4"/><text class="t" x="615" y="486">1449</text></g>
<g id="n1447"><circle class="o" cx="533.3" cy="476" r="3"/><text class="ao" x="553.3" y="492">1447</text></g>
<g id="n486"><circle class="o" cx="497.3" cy="405.7" r="3.5"/><text class="t" x="512.7" y="422">486</text></g>
<g id="n484"><circle class="o" cx="572.3" cy="410" r="3.5"/><text class="t" x="587.3" y="427">484</text></g>
<g id="n1032"><circle class="w" cx="616.7" cy="529.3" r="3.5"/><text class="t" x="636.7" y="547">1032</text></g>
<g id="n1034"><circle class="w" cx="567.7" cy="524.3" r="3.5"/><text class="t" x="586.7" y="541">1034</text></g>
<g id="n1037"><circle class="w" cx="522.7" cy="529.7" r="3"/><text class="ao" x="542.7" y="546">1037</text></g>
<g id="n1033"><circle class="w" cx="588.3" cy="560" r="3.5"/><text class="t" x="608.3" y="577">1033</text></g>
<g id="n1036"><circle class="w" cx="545" cy="575.3" r="3"/><text class="ao" x="565" y="591">1036</text></g>
<g id="n1035"><circle class="w" cx="598.3" cy="589.3" r="3"/><text class="ao" x="616" y="602">1035</text></g>
<g id="n1070"><circle class="u" cx="95" cy="224" r="3"/><text class="ao" x="115" y="240">1070</text></g>
<g id="n1069"><circle class="u" cx="134.7" cy="225.7" r="3.5"/><text class="t" x="153.3" y="242">1069</text></g>
<g id="n1068"><circle class="u" cx="141" cy="253.3" r="3.5"/><text class="t" x="160" y="270">1068</text></g>
<g id="n1067"><circle class="u" cx="113.3" cy="276" r="3.5"/><text class="t" x="133.3" y="292">1067</text></g>
<g id="n1066"><circle class="u" cx="117.3" cy="307.7" r="3.5"/><text class="t" x="136.7" y="324">1066</text></g>
<g id="n1065"><circle class="u" cx="133.3" cy="338.3" r="3.5"/><text class="t" x="153.3" y="355">1065</text></g>
<g id="nER1"><circle class="c" cx="168.3" cy="362.7" r="7"/><text class="mr" x="183" y="384">ER</text></g>
<g id="n746"><circle class="p" cx="179.3" cy="294" r="3.5"/><text class="ao" x="195" y="310">746</text></g>
<g id="n747"><circle class="r" cx="201.7" cy="331.7" r="3.5"/><text class="t" x="216.7" y="348">747</text></g>
<g id="n749"><circle class="y" cx="111.7" cy="371.7" r="3.5"/><text class="t" x="126.7" y="388">749</text></g>
<g id="n772"><circle class="u" cx="105" cy="401.3" r="3.5"/><text class="t" x="120" y="418">772</text></g>
<g id="n773"><circle class="u" cx="96" cy="429.3" r="3"/><text class="ao" x="111.7" y="446">773</text></g>
<g id="n1711"><circle class="im" cx="223.3" cy="373.3" r="3.5"/><text class="t" x="241.7" y="390">1711</text></g>
<g id="n1712"><circle class="im" cx="276" cy="380.3" r="3.5"/><text class="t" x="295" y="397">1712</text></g>
<g id="n1713"><circle class="im" cx="330.3" cy="383.3" r="3.5"/><text class="t" x="348" y="400">1713</text></g>
<g id="n1182"><circle class="bg" cx="165.3" cy="399.3" r="3.5"/><text class="t" x="183.3" y="416">1182</text></g>
<g id="n1183"><circle class="bg" cx="154.3" cy="430" r="3.5"/><text class="t" x="173.3" y="447">1183</text></g>
<g id="n177"><circle class="bg" cx="138" cy="459" r="3.5"/><text class="t" x="153.3" y="475">177</text></g>
<g id="n1088"><circle class="bg" cx="94" cy="460" r="3.5"/><text class="t" x="114.3" y="477">1088</text></g>
<g id="n1187"><circle class="bg" cx="89" cy="487.3" r="3.5"/><text class="t" x="108.3" y="504">1187</text></g>
<g id="n1188"><circle class="bg" cx="99" cy="513.7" r="3.5"/><text class="t" x="118.3" y="531">1188</text></g>
<g id="n1189"><circle class="bg" cx="134.3" cy="495" r="3.5"/><text class="t" x="153.3" y="512">1189</text></g>
<g id="n1190"><circle class="bg" cx="170" cy="509" r="3.5"/><text class="t" x="188.3" y="526">1190</text></g>
<g id="n1191"><circle class="bg" cx="210.7" cy="505.3" r="3.5"/><text class="t" x="230" y="522">1191</text></g>
<g id="n1192"><circle class="bg" cx="214" cy="534.7" r="3.5"/><text class="t" x="233.3" y="551">1192</text></g>
<g id="n1194"><circle class="bg" cx="258.3" cy="523" r="3.5"/><text class="t" x="276.7" y="539">1194</text></g>
<g id="n1195"><circle class="bg" cx="297.3" cy="537.7" r="3.5"/><text class="t" x="316.7" y="555">1195</text></g>
<g id="n1196"><circle class="bg" cx="324.7" cy="512.7" r="3.5"/><text class="t" x="343.3" y="529">1196</text></g>
<g id="n1197"><circle class="bg" cx="363.3" cy="534.7" r="3.5"/><text class="t" x="382.7" y="551">1197</text></g>
<g id="n1198"><circle class="bg" cx="409.3" cy="528.3" r="3.5"/><text class="t" x="428.3" y="545">1198</text></g>
<g id="n1213"><circle class="bg" cx="458.3" cy="540.7" r="3.5"/><text class="t" x="477.3" y="557">1213</text></g>
<g id="n1239"><circle class="bg" cx="481.3" cy="574" r="3.5"/><text class="t" x="500.7" y="590">1239</text></g>
<g id="n1240"><circle class="bg" cx="438.7" cy="581.7" r="3.5"/><text class="t" x="458.3" y="598">1240</text></g>
<g id="n1241"><circle class="bg" cx="396.7" cy="572.7" r="3.5"/><text class="t" x="416.7" y="588">1241</text></g>
<g id="n1242"><circle class="bg" cx="361.7" cy="590.7" r="3.5"/><text class="t" x="381.7" y="607">1242</text></g>
<g id="n1193"><circle class="bg" cx="333.3" cy="565" r="3"/><text class="ao" x="350" y="567">1193</text></g>
<g id="n739"><circle class="y" cx="218.3" cy="416.7" r="3.5"/><text class="t" x="234" y="433">739</text></g>
<g id="n740"><circle class="y" cx="205.7" cy="448.3" r="3.5"/><text class="t" x="221" y="465">740</text></g>
<g id="n741"><circle class="y" cx="182" cy="472.7" r="3"/><text class="ao" x="185" y="490">741</text></g>
<g id="n1023"><circle class="r" cx="264.7" cy="428" r="3.5"/><text class="t" x="280" y="444">1023</text></g>
<g id="n281"><circle class="r" cx="295" cy="459" r="5"/><text class="t" x="309.3" y="475">281</text></g>
<g id="nTPO"><circle class="c" cx="242.3" cy="478.7" r="3.5"/><text class="mb" x="243.3" y="498">TPO</text></g>
<g id="n277"><circle class="g" cx="281" cy="486.3" r="3.5"/><text class="t" x="296" y="502">277</text></g>
<g id="n280"><circle class="p" cx="328.7" cy="434.3" r="3.5"/><text class="t" x="343.3" y="451">280</text></g>
<g id="n756"><circle class="p" cx="369.3" cy="453.3" r="3.5"/><text class="t" x="384.3" y="471">756</text></g>
<g id="nTHRB"><circle class="c" cx="367.7" cy="489" r="3.5"/><text class="mb" x="370" y="508">THRB</text></g>
<g id="n757"><circle class="p" cx="414" cy="439.3" r="3.5"/><text class="t" x="429.3" y="456">757</text></g>
<g id="n758"><circle class="p" cx="446" cy="466" r="3.5"/><text class="t" x="460.7" y="483">758</text></g>
<g id="n402"><circle class="p" cx="456" cy="493.3" r="3"/><text class="ao" x="471.7" y="509">402</text></g>
<g id="nCYP2E1"><circle class="c" cx="160" cy="581.7" r="4.5"/><text class="mr" x="153" y="605">CYP2E1</text></g>
<g id="n1393"><circle class="o" cx="132.7" cy="563.3" r="4"/><text class="t" x="153.3" y="579">1393</text></g>
<g id="n1392"><circle class="o" cx="172.3" cy="554.3" r="4.5"/><text class="t" x="191.7" y="571">1392</text></g>
<g id="n1395"><circle class="o" cx="143.3" cy="534.3" r="3.5"/><text class="t" x="163.3" y="551">1395</text></g>
<g id="n1394"><circle class="o" cx="106" cy="544" r="3.5"/><text class="t" x="125" y="560">1394</text></g>
<g id="n1510"><circle class="p" cx="198.3" cy="589" r="4"/><text class="t" x="218.3" y="605">1510</text></g>
<g id="n1511"><circle class="p" cx="226" cy="569.3" r="4"/><text class="t" x="245" y="586">1511</text></g>
<g id="n1509"><circle class="p" cx="259.3" cy="560" r="3.5"/><text class="t" x="274.3" y="576">1509</text></g>
<g id="n1512"><circle class="p" cx="240" cy="596.7" r="3.5"/><text class="t" x="259.3" y="612">1512</text></g>
<g id="n1513"><circle class="p" cx="272.7" cy="586" r="3.5"/><text class="t" x="291.7" y="603">1513</text></g>
<g id="n1514"><circle class="p" cx="309.3" cy="594.3" r="3"/><text class="ao" x="330" y="611">1514</text></g>
</g>
<g id="legend">
<rect x="930" y="196" width="140" height="302" fill="#f3f3f3" stroke="#c8c8c8"/>
<circle cx="944" cy="215" r="5.5" fill="#f05050" stroke="#b02020"/><text class="lg" x="957" y="220">Blood</text>
<circle cx="944" cy="241.7" r="5.5" fill="#f070f0" stroke="#b040b0"/><text class="lg" x="957" y="247">Brain</text>
<circle cx="944" cy="268.3" r="5.5" fill="#92e592" stroke="#60b060"/><text class="lg" x="957" y="273">Breast</text>
<circle cx="944" cy="295" r="5.5" fill="#4fa97f" stroke="#2e7050"/><text class="lg" x="957" y="300">Immune system</text>
<circle cx="944" cy="321.7" r="5.5" fill="#f6b050" stroke="#c07820"/><text class="lg" x="957" y="327">Liver</text>
<circle cx="944" cy="348.3" r="5.5" fill="#58e8ea" stroke="#30b0b0"/><text class="lg" x="957" y="353">MIE</text>
<circle cx="944" cy="375" r="5.5" fill="#f0f040" stroke="#b0b020"/><text class="lg" x="957" y="380">Ovary</text>
<circle cx="944" cy="401.7" r="5.5" fill="#4a70f0" stroke="#2040a0"/><text class="lg" x="957" y="407">Testis</text>
<circle cx="944" cy="428.3" r="5.5" fill="#a066e0" stroke="#6a3ca0"/><text class="lg" x="957" y="433">Uterus</text>
<circle cx="944" cy="455" r="5.5" fill="#f0f0f0" stroke="#d0d0d0"/><text class="lg" x="957" y="460">unspecific</text>
<circle cx="944" cy="481.7" r="5.5" fill="#c8c8c8" stroke="#9a9a9a"/><text class="lg" x="957" y="487">Other</text>
<text x="941" y="533" font-size="16.5" fill="#e8141a">MIE-agonism</text>
<text x="941" y="556" font-size="16.5" fill="#1a1ad6">MIE-antagonism</text>
</g>
</svg>
